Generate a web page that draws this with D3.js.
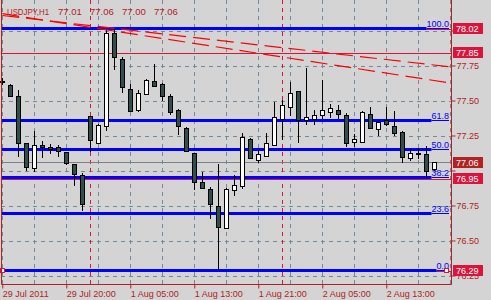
<!DOCTYPE html>
<html><head><meta charset="utf-8">
<script src="https://cdn.jsdelivr.net/npm/d3@7"></script>
<style>
html,body{margin:0;padding:0;background:#d4d4d4;}
svg{display:block;}
text{font-family:"Liberation Sans",Arial,sans-serif;}
</style></head>
<body><svg id="c" width="491" height="300"></svg>
<script>
// ---- data ----
const opens  = [77.64,77.61,77.53,77.20,77.02,77.18,77.17,77.17,77.13,77.05,76.97,77.39,77.20,77.315,77.98,77.80,77.585,77.43,77.55,77.64,77.62,77.53,77.43,77.305,77.125,76.915,76.87,76.745,76.59,76.86,76.89,77.225,77.075,77.105,77.18,77.37,77.455,77.57,77.36,77.37,77.395,77.42,77.435,77.40,77.205,77.205,77.405,77.30,77.36,77.32,77.275,77.09,77.125,77.12,77.01];
const highs  = [77.66,77.62,77.575,77.20,77.28,77.21,77.19,77.18,77.135,77.05,76.98,77.39,77.33,78.005,78.02,77.81,77.62,77.575,77.655,77.76,77.625,77.55,77.44,77.31,77.125,76.99,76.88,77.045,76.875,76.965,77.27,77.23,77.145,77.27,77.49,77.505,77.63,77.57,77.735,77.435,77.65,77.475,77.465,77.41,77.26,77.425,77.455,77.355,77.455,77.425,77.28,77.16,77.16,77.175,77.06];
const lows   = [77.61,77.525,77.10,77.00,76.99,77.09,77.115,77.10,77.04,76.89,76.71,77.13,77.195,77.285,77.72,77.555,77.42,77.415,77.545,77.595,77.50,77.395,77.255,77.135,76.86,76.865,76.655,76.29,76.585,76.82,76.865,77.09,77.055,77.10,77.175,77.22,77.39,77.20,77.325,77.325,77.365,77.375,77.365,77.165,77.165,77.20,77.295,77.25,77.315,77.25,77.055,77.065,77.08,76.95,77.00];
const closes = [77.63,77.53,77.20,77.025,77.18,77.165,77.155,77.14,77.055,76.975,76.76,77.22,77.325,77.985,77.81,77.60,77.425,77.555,77.65,77.605,77.535,77.42,77.32,77.14,76.92,76.875,76.76,76.595,76.87,76.90,77.24,77.09,77.12,77.20,77.38,77.47,77.555,77.36,77.38,77.40,77.43,77.45,77.405,77.20,77.225,77.42,77.305,77.35,77.33,77.27,77.10,77.125,77.115,77.00,77.06];
const timeTickIdx    = [0,8,16,24,32,40,48];
const timeTickLabels = ["29 Jul 2011","29 Jul 20:00","1 Aug 05:00","1 Aug 13:00","1 Aug 21:00","2 Aug 05:00","2 Aug 13:00"];
const daySeparators  = [11,35];
const priceTicks     = [76.25,76.50,76.75,77.00,77.25,77.50,77.75,78.00];
// 77.00 and 78.00 are hidden under the price boxes in the reference
const priceTickLabels= ["76.25","76.50","76.75","","77.25","77.50","77.75",""];
const fibLow = 76.29, fibHigh = 78.02;
const fibRatios = [0,0.236,0.382,0.5,0.618,1];
const fibLabels = ["0.0","23.6","38.2","50.0","61.8","100.0"];
const hLines = [78.02,77.85,76.95,76.29];
const hLineLabels = ["78.02","77.85","76.95","76.29"];
const bidPrice = 77.06, bidLabel = "77.06";
const trendStartIdx = 0, trendEndIdx = 56;
const trend1 = [78.107,77.74];
const trend2 = [78.12,77.625];
const titleTokens = ["USDJPY,H1","77.01","77.06","77.00","77.06"];

// ---- layout ----
const W=491,H=300;
const plotL=1, plotR=451, plotT=0, plotB=284;
const svg=d3.select("#c");
const x=d3.scaleLinear().domain([0,56]).range([2.3,450.3]);
const y=d3.scaleLinear().domain([76.1893,78.2179]).range([plotB,plotT]);
const AX="#b22222", CRIM="#dc143c", GRID="#778899";

svg.append("rect").attr("width",W).attr("height",H).attr("fill","#d4d4d4");

const g=svg.append("g");
// grid
const vgrid=d3.range(0,57,4);
g.selectAll(".vg").data(vgrid).join("line")
 .attr("x1",d=>Math.round(x(d))+0.5).attr("x2",d=>Math.round(x(d))+0.5)
 .attr("y1",plotT).attr("y2",plotB)
 .attr("stroke",GRID).attr("stroke-dasharray","4,4");
g.selectAll(".hg").data(priceTicks).join("line")
 .attr("x1",plotL).attr("x2",plotR)
 .attr("y1",d=>Math.round(y(d))+0.5).attr("y2",d=>Math.round(y(d))+0.5)
 .attr("stroke",GRID).attr("stroke-dasharray","4,4");
// day separators
g.selectAll(".sep").data(daySeparators).join("line")
 .attr("x1",d=>Math.round(x(d))+0.5).attr("x2",d=>Math.round(x(d))+0.5)
 .attr("y1",plotT).attr("y2",plotB)
 .attr("stroke",CRIM).attr("stroke-dasharray","4,4");

// red horizontal lines
g.selectAll(".hl").data(hLines).join("line")
 .attr("x1",plotL).attr("x2",plotR)
 .attr("y1",d=>Math.round(y(d))+1.5).attr("y2",d=>Math.round(y(d))+1.5)
 .attr("stroke",CRIM).attr("stroke-width",1);
// bid line
g.append("line").attr("x1",plotL).attr("x2",plotR)
 .attr("y1",Math.round(y(bidPrice))+0.5).attr("y2",Math.round(y(bidPrice))+0.5)
 .attr("stroke","#808080");

// fib lines
const fibs=fibRatios.map((r,i)=>({p:fibLow+r*(fibHigh-fibLow),l:fibLabels[i]}));
const fg=g.append("g");
fibs.forEach(f=>{
  const yy=Math.round(y(f.p));
  const t=fg.append("text").attr("x",449).attr("y",yy-1.5).attr("text-anchor","end")
    .attr("font-size",9).attr("fill","#0000ff").text(f.l);
  const tw=t.node().getComputedTextLength();
  fg.append("line").attr("x1",plotL).attr("x2",449-tw).attr("y1",yy+0.5).attr("y2",yy+0.5)
    .attr("stroke","#0000ff").attr("stroke-width",3);
  fg.append("line").attr("x1",449-tw).attr("x2",449).attr("y1",yy+0.5).attr("y2",yy+0.5)
    .attr("stroke","#0000ff").attr("stroke-width",1);
});
// anchor squares
[[0,fibLow],[55.5,fibLow]].forEach(([i,p])=>{
  g.append("rect").attr("x",Math.round(x(i))-2+0.5).attr("y",Math.round(y(p))-2+0.5)
   .attr("width",4).attr("height",4).attr("fill","#fff").attr("stroke",CRIM);
});

// candles
const bars=opens.map((o,i)=>({i,o,h:highs[i],l:lows[i],c:closes[i]}));
const cg=g.append("g").attr("shape-rendering","crispEdges");
cg.selectAll(".wick").data(bars).join("line")
 .attr("x1",d=>Math.round(x(d.i))+0.5).attr("x2",d=>Math.round(x(d.i))+0.5)
 .attr("y1",d=>Math.round(y(d.h))).attr("y2",d=>Math.round(y(d.l)))
 .attr("stroke","#000");
cg.selectAll(".body").data(bars).join("rect")
 .attr("x",d=>Math.round(x(d.i))-1.5)
 .attr("y",d=>Math.round(y(Math.max(d.o,d.c)))+0.5)
 .attr("width",4)
 .attr("height",d=>Math.max(1,Math.round(y(Math.min(d.o,d.c)))-Math.round(y(Math.max(d.o,d.c)))))
 .attr("fill",d=>d.c>=d.o?"#ffffff":"#2f4f4f")
 .attr("stroke","#000");

// trendlines
[trend1,trend2].forEach(t=>{
  g.append("line").attr("x1",x(trendStartIdx)).attr("y1",y(t[0]))
   .attr("x2",x(trendEndIdx)).attr("y2",y(t[1]))
   .attr("stroke","#ff0000").attr("stroke-width",1.2).attr("stroke-dasharray","17,7");
});

// clip overflow outside plot
svg.append("rect").attr("x",plotR+1).attr("y",0).attr("width",W-plotR-1).attr("height",H).attr("fill","#d4d4d4");
svg.append("rect").attr("x",0).attr("y",plotB+1).attr("width",W).attr("height",H-plotB).attr("fill","#d4d4d4");

// border
svg.append("path").attr("d",`M${plotL+0.5},0V${plotB+0.5}H${plotR+0.5}V0`)
 .attr("fill","none").attr("stroke",AX);

// right axis
const ra=svg.append("g").attr("transform",`translate(${plotR+0.5},0)`)
 .call(d3.axisRight(y).tickValues(priceTicks).tickSize(4).tickFormat((d,i)=>priceTickLabels[i]));
ra.select(".domain").remove();
ra.selectAll(".tick line").attr("stroke",AX);
ra.selectAll(".tick text").attr("fill",AX).attr("font-size",9).attr("x",5)
 .attr("font-family","Liberation Sans, Arial, sans-serif");

// bottom axis
const ba=svg.append("g").attr("transform",`translate(0,${plotB+0.5})`)
 .call(d3.axisBottom(x).tickValues(timeTickIdx).tickSize(4).tickFormat((d,i)=>timeTickLabels[i]));
ba.select(".domain").remove();
ba.selectAll(".tick line").attr("stroke",AX);
ba.selectAll(".tick text").attr("fill",AX).attr("font-size",9).attr("text-anchor","start")
 .attr("x",0).attr("y",6).attr("font-family","Liberation Sans, Arial, sans-serif");

// price label boxes
const boxes=hLines.map((p,i)=>({p,l:hLineLabels[i],c:CRIM})).concat([{p:bidPrice,l:bidLabel,c:AX}]);
const bg=svg.append("g");
boxes.forEach(b=>{
  const yy=y(b.p);
  bg.append("rect").attr("x",453).attr("y",Math.round(yy)-5).attr("width",30).attr("height",11).attr("fill",b.c);
  bg.append("text").attr("x",456).attr("y",Math.round(yy)+4).attr("font-size",9).attr("fill","#fff").text(b.l);
});

// title
const tg=svg.append("g").attr("fill",AX).attr("font-size",9.5);
titleTokens.forEach((t,i)=>{
  const tx=tg.append("text").attr("x",i===0?7:58+32*(i-1)).attr("y",15).text(t);
  if(i===0) tx.attr("textLength",42).attr("lengthAdjust","spacingAndGlyphs");
});
</script></body></html>
